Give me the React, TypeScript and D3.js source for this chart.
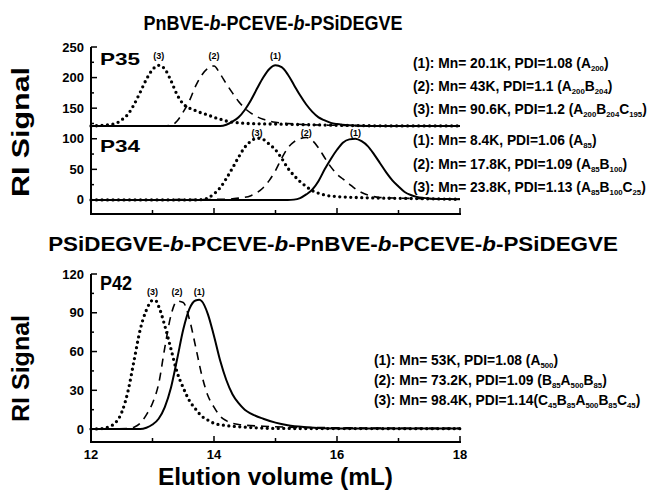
import React from 'react';
import * as d3 from 'd3';

// GPC traces, [elution volume (mL), RI signal]; P35 traces are stacked on top of P34
const P35_OFFSET = 120;

const p35_1: [number, number][] = [[12, 1], [14.1, 1], [14.2, 3], [14.3, 8], [14.4, 15], [14.5, 27], [14.6, 43], [14.7, 62], [14.8, 80], [14.9, 94], [15.0, 100], [15.1, 97], [15.2, 85], [15.3, 68], [15.4, 51], [15.5, 36], [15.6, 24], [15.7, 15], [15.8, 10], [15.9, 6], [16.0, 4], [16.2, 2], [16.5, 1], [18, 1]];
const p35_2: [number, number][] = [[12, 1], [13.2, 1], [13.3, 2], [13.4, 9], [13.5, 24], [13.6, 42], [13.7, 66], [13.8, 84], [13.9, 95], [14.0, 99], [14.1, 86], [14.2, 70], [14.3, 55], [14.4, 41], [14.5, 30], [14.6, 22], [14.7, 16], [14.8, 12], [14.9, 9], [15.0, 7], [15.2, 5], [15.5, 3], [16, 2], [17, 1], [18, 1]];
const p35_3: [number, number][] = [[12, 1], [12.2, 2], [12.4, 5], [12.5, 11], [12.6, 20], [12.7, 36], [12.8, 56], [12.9, 77], [13.0, 93], [13.1, 100], [13.2, 94], [13.3, 75], [13.4, 52], [13.5, 37], [13.6, 30], [13.7, 26], [13.8, 22], [13.9, 19], [14.0, 15], [14.1, 12], [14.2, 9], [14.4, 6], [14.7, 4.5], [15.0, 4], [15.5, 3], [16, 2], [17, 1], [18, 1]];

const p34_1: [number, number][] = [[12, 0], [15.2, 0], [15.3, 0.5], [15.4, 3], [15.5, 9], [15.6, 17], [15.7, 31], [15.8, 50], [15.9, 67], [16.0, 82], [16.1, 94], [16.2, 99], [16.3, 100], [16.4, 96], [16.5, 88], [16.6, 75], [16.7, 60], [16.8, 45], [16.9, 32], [17.0, 22], [17.1, 13], [17.2, 8], [17.3, 5], [17.5, 2.5], [17.8, 1.5], [18, 1]];
const p34_2: [number, number][] = [[12, 0], [14.2, 1], [14.4, 3], [14.6, 7], [14.7, 12], [14.8, 20], [14.9, 32], [15.0, 48], [15.1, 68], [15.2, 85], [15.3, 95], [15.4, 100], [15.5, 102], [15.6, 97], [15.7, 85], [15.8, 69], [15.9, 54], [16.0, 42], [16.1, 34], [16.2, 26], [16.3, 18], [16.4, 12], [16.5, 8], [16.7, 4], [17.0, 3], [17.5, 2], [18, 1.5]];
const p34_3: [number, number][] = [[12, 0], [13.7, 0], [13.8, 0.5], [13.9, 3], [14.0, 10], [14.1, 20], [14.2, 35], [14.3, 52], [14.4, 70], [14.5, 86], [14.6, 96], [14.7, 101], [14.8, 99], [14.9, 91], [15.0, 82], [15.1, 68], [15.2, 52], [15.3, 40], [15.4, 30], [15.5, 22], [15.6, 15], [15.7, 11], [15.8, 8], [16.0, 5.5], [16.3, 4], [16.7, 3], [17.1, 2.5], [18, 1]];

const p42_1: [number, number][] = [[12, 0], [12.8, 0], [12.9, 1], [13.0, 3.5], [13.1, 8], [13.2, 17], [13.3, 32], [13.4, 54], [13.5, 77], [13.6, 93], [13.7, 99.5], [13.76, 100], [13.8, 99], [13.9, 89], [14.0, 72], [14.1, 53], [14.2, 38], [14.3, 27], [14.4, 20], [14.5, 15], [14.6, 12], [14.8, 8], [15.0, 5], [15.2, 3], [15.5, 1.5], [16, 0.5], [18, 0.5]];
const p42_2: [number, number][] = [[12, 0], [12.6, 0.5], [12.7, 1.5], [12.8, 4.5], [12.9, 11], [13.0, 20], [13.1, 35], [13.2, 63], [13.3, 88], [13.4, 99], [13.5, 98], [13.6, 85], [13.7, 64], [13.8, 42], [13.9, 26], [14.0, 17], [14.1, 10], [14.2, 6.5], [14.4, 3.5], [14.8, 2.2], [15.2, 1.5], [16, 1], [18, 0.5]];
const p42_3: [number, number][] = [[12, 0], [12.2, 0.5], [12.3, 2], [12.4, 5], [12.5, 13], [12.6, 29], [12.7, 53], [12.8, 77], [12.9, 92], [13.0, 99.5], [13.05, 99.5], [13.1, 95], [13.2, 80], [13.3, 62], [13.4, 44], [13.5, 32], [13.6, 22], [13.7, 15.5], [13.8, 10], [13.9, 7], [14.0, 4.5], [14.2, 2.7], [14.5, 1.5], [15, 0.5], [18, 0.3]];

const xTicks = [12, 13, 14, 15, 16, 17, 18];
const xLabels = [12, 14, 16, 18];
const topYTicks = [0, 50, 100, 150, 200, 250];
const topYMinor = [25, 75, 125, 175, 225];
const botYTicks = [0, 30, 60, 90, 120];
const botYMinor = [15, 45, 75, 105];

const peakNames = ['(1)', '(2)', '(3)'];
const legendP35 = ['(1): Mn= 20.1K, PDI=1.08 (A_{200})', '(2): Mn= 43K, PDI=1.1 (A_{200}B_{204})', '(3): Mn= 90.6K, PDI=1.2 (A_{200}B_{204}C_{195})'];
const legendP34 = ['(1): Mn= 8.4K, PDI=1.06 (A_{85})', '(2): Mn= 17.8K, PDI=1.09 (A_{85}B_{100})', '(3): Mn= 23.8K, PDI=1.13 (A_{85}B_{100}C_{25})'];
const legendP42 = ['(1): Mn= 53K, PDI=1.08 (A_{500})', '(2): Mn= 73.2K, PDI=1.09 (B_{85}A_{500}B_{85})', '(3): Mn= 98.4K, PDI=1.14(C_{45}B_{85}A_{500}B_{85}C_{45})'];

const FONT = '"Liberation Sans", Arial, sans-serif';

const x = d3.scaleLinear().domain([12, 18]).range([91, 460]);
const yTop = d3.scaleLinear().domain([-23, 250]).range([214, 47]);
const yBot = d3.scaleLinear().domain([-10, 120]).range([442, 274]);

const styles = [
  { strokeWidth: 2 },
  { strokeWidth: 1.6, strokeDasharray: '8,6' },
  { strokeWidth: 3.3, strokeDasharray: '0,5.5', strokeLinecap: 'round' as const },
];

function Curve({ data, y, offset = 0, k }: any) {
  const line = d3.line<[number, number]>()
    .x(d => x(d[0]))
    .y(d => y(d[1] + offset))
    .curve(d3.curveMonotoneX);
  return <path d={line(data) || ''} fill="none" stroke="#000" {...styles[k]} />;
}

function PeakLabels({ series, y, offset = 0, labelY }: any) {
  return series.map((s: [number, number][], i: number) => {
    const pk = d3.greatest(s, d => d[1])!;
    return (
      <text key={i} x={x(pk[0])} y={y(labelY + offset)} textAnchor="middle" fontSize={9} fontWeight="bold">
        {peakNames[i]}
      </text>
    );
  });
}

function LegendLine({ str, x0, y0 }: { str: string; x0: number; y0: number }) {
  const parts = str.split(/_\{([^}]*)\}/);
  let down = false;
  const spans = parts.map((p, i) => {
    const sub = i % 2 === 1;
    let dy = 0;
    if (sub && !down) { dy = 3; down = true; }
    else if (!sub && down) { dy = -3; down = false; }
    return (
      <tspan key={i} dy={dy} fontSize={sub ? 7.8 : 13.8}>{p}</tspan>
    );
  });
  return <text x={x0} y={y0} fontWeight="bold" fontSize={13.8}>{spans}</text>;
}

function Axes({ y, yMax, yMajor, yMinor, bottom, labels }: any) {
  return (
    <g>
      <line x1={91} x2={91} y1={y(yMax)} y2={bottom} stroke="#000" strokeWidth={2} />
      <line x1={90} x2={461} y1={bottom} y2={bottom} stroke="#000" strokeWidth={2} />
      {yMajor.map((v: number) => (
        <g key={v}>
          <line x1={91} x2={97} y1={y(v)} y2={y(v)} stroke="#000" strokeWidth={1.5} />
          <text x={84} y={y(v) + 4.5} textAnchor="end" fontSize={13} fontWeight="bold">{v}</text>
        </g>
      ))}
      {yMinor.map((v: number) => (
        <line key={v} x1={91} x2={94} y1={y(v)} y2={y(v)} stroke="#000" strokeWidth={1.5} />
      ))}
      {xTicks.map(v => (
        <line key={v} x1={x(v)} x2={x(v)} y1={bottom} y2={bottom - (v % 2 === 0 ? 6 : 4)} stroke="#000" strokeWidth={1.5} />
      ))}
      {labels && xLabels.map(v => (
        <text key={v} x={x(v)} y={bottom + 17} textAnchor="middle" fontSize={13} fontWeight="bold">{v}</text>
      ))}
    </g>
  );
}

export default function App() {
  return (
    <svg width={648} height={490} style={{ position: 'absolute', left: 0, top: 0, background: '#fff' }} fontFamily={FONT}>
      <text transform="translate(273,29.5) scale(0.9,1)" textAnchor="middle" fontSize={20} fontWeight="bold">
        PnBVE-<tspan fontStyle="italic">b</tspan>-PCEVE-<tspan fontStyle="italic">b</tspan>-PSiDEGVE
      </text>
      <text transform="translate(333,250.5) scale(1.12,1)" textAnchor="middle" fontSize={20} fontWeight="bold">
        PSiDEGVE-<tspan fontStyle="italic">b</tspan>-PCEVE-<tspan fontStyle="italic">b</tspan>-PnBVE-<tspan fontStyle="italic">b</tspan>-PCEVE-<tspan fontStyle="italic">b</tspan>-PSiDEGVE
      </text>

      <text transform="translate(29,132) rotate(-90)" textAnchor="middle" fontSize={23} fontWeight="bold" textLength={130} lengthAdjust="spacingAndGlyphs">RI Signal</text>
      <text transform="translate(29,368.5) rotate(-90)" textAnchor="middle" fontSize={23} fontWeight="bold" textLength={107} lengthAdjust="spacingAndGlyphs">RI Signal</text>
      <text x={158} y={484.5} fontSize={23} fontWeight="bold" textLength={235} lengthAdjust="spacingAndGlyphs">Elution volume (mL)</text>

      {/* top panel */}
      <Axes y={yTop} yMax={250} yMajor={topYTicks} yMinor={topYMinor} bottom={214} labels={false} />
      <Curve data={p35_1} y={yTop} offset={P35_OFFSET} k={0} />
      <Curve data={p35_2} y={yTop} offset={P35_OFFSET} k={1} />
      <Curve data={p35_3} y={yTop} offset={P35_OFFSET} k={2} />
      <Curve data={p34_1} y={yTop} k={0} />
      <Curve data={p34_2} y={yTop} k={1} />
      <Curve data={p34_3} y={yTop} k={2} />
      <PeakLabels series={[p35_1, p35_2, p35_3]} y={yTop} offset={P35_OFFSET} labelY={110} />
      <PeakLabels series={[p34_1, p34_2, p34_3]} y={yTop} labelY={105} />
      <text x={100} y={65} fontSize={17} fontWeight="bold" textLength={40} lengthAdjust="spacingAndGlyphs">P35</text>
      <text x={100} y={152} fontSize={17} fontWeight="bold" textLength={40} lengthAdjust="spacingAndGlyphs">P34</text>
      {legendP35.map((s, i) => <LegendLine key={s} str={s} x0={413} y0={68 + i * 23} />)}
      {legendP34.map((s, i) => <LegendLine key={s} str={s} x0={413} y0={145 + i * 23.5} />)}

      {/* bottom panel */}
      <Axes y={yBot} yMax={120} yMajor={botYTicks} yMinor={botYMinor} bottom={442} labels={true} />
      <Curve data={p42_1} y={yBot} k={0} />
      <Curve data={p42_2} y={yBot} k={1} />
      <Curve data={p42_3} y={yBot} k={2} />
      <PeakLabels series={[p42_1, p42_2, p42_3]} y={yBot} labelY={104} />
      <text x={100} y={290} fontSize={20} fontWeight="bold" textLength={32} lengthAdjust="spacingAndGlyphs">P42</text>
      {legendP42.map((s, i) => <LegendLine key={s} str={s} x0={374} y0={364.5 + i * 20} />)}
    </svg>
  );
}
